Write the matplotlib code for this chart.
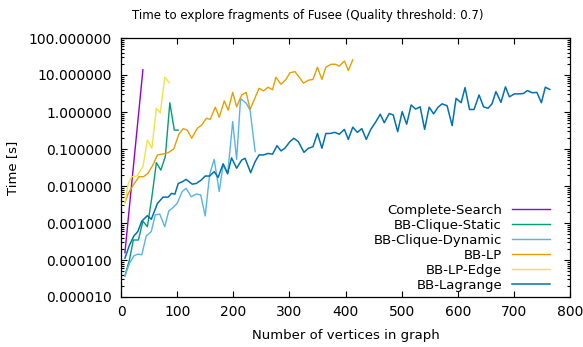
import matplotlib
matplotlib.use("Agg")
import matplotlib.pyplot as plt
from matplotlib.ticker import LogLocator, FormatStrFormatter, NullFormatter, MultipleLocator

# Vertex counts and exploration times (seconds) per algorithm
cs_x = [7, 15, 23, 31, 39]
cs_t = [1.58e-4, 2.75e-3, 4.68e-2, 0.79, 13.8]

static_x = [7, 15, 22, 31, 39, 47, 55, 63, 71, 79, 87, 95, 102]
static_t = [3.72e-5, 1.0e-4, 3.47e-4, 3.47e-4, 1.12e-3, 7.94e-4, 5.01e-3,
            4.27e-2, 2.69e-2, 6.31e-2, 1.78, 0.324, 0.324]

dynamic_x = [7, 15, 23, 30, 37, 45, 54, 61, 69, 78, 85, 93, 100, 109, 116,
             125, 134, 142, 150, 158, 166, 175, 182, 190, 199, 206, 213, 223,
             230, 239]
dynamic_t = [3.72e-5, 8.13e-5, 1.29e-4, 1.45e-4, 1.38e-4, 4.47e-4, 5.89e-4,
             1.66e-3, 1.74e-3, 7.94e-4, 2.09e-3, 2.63e-3, 3.39e-3, 7.08e-3,
             8.71e-3, 5.13e-3, 6.03e-3, 5.75e-3, 1.55e-3, 2.09e-2, 5.25e-2,
             7.08e-3, 3.72e-2, 2.09e-2, 0.55, 5.25e-2, 2.29, 1.74, 1.12, 0.0851]

lp_x = [7, 13, 22, 32, 40, 48, 57, 65, 73, 84, 94, 103, 111, 118, 126, 136,
        144, 152, 159, 168, 175, 184, 191, 199, 206, 215, 223, 230, 237, 246,
        254, 262, 270, 276, 285, 294, 301, 310, 318, 325, 334, 342, 350, 358,
        365, 374, 382, 389, 398, 405, 413]
lp_t = [3.55e-3, 6.31e-3, 1.07e-2, 1.78e-2, 1.78e-2, 2.19e-2, 3.72e-2,
        6.92e-2, 7.24e-2, 7.94e-2, 0.1, 0.251, 0.355, 0.324, 0.195, 0.363,
        0.447, 0.676, 0.631, 1.35, 0.724, 2.0, 1.12, 3.39, 1.38, 2.88, 3.39,
        1.17, 2.09, 4.37, 3.72, 4.68, 3.98, 8.71, 5.62, 7.59, 11.5, 12.3,
        8.51, 6.03, 7.24, 7.59, 16.2, 7.59, 16.2, 19.5, 19.5, 17.4, 24.0,
        13.2, 25.7]

lpedge_x = [7, 13, 19, 28, 39, 47, 55, 63, 70, 78, 86]
lpedge_t = [3.55e-3, 1.17e-2, 1.78e-2, 1.86e-2, 3.31e-2, 0.174, 0.105, 1.26,
            0.955, 8.71, 6.17]

lag_x = [7, 15, 23, 30, 37, 47, 54, 65, 75, 84, 90, 96, 102, 110, 116, 127,
         134, 143, 150, 158, 166, 173, 182, 190, 197, 206, 215, 221, 231, 239,
         246, 254, 262, 270, 278, 285, 292, 301, 308, 316, 326, 334, 342, 350,
         358, 365, 373, 381, 389, 398, 405, 413, 421, 429, 437, 445, 453, 462,
         469, 478, 485, 493, 501, 509, 517, 525, 533, 541, 549, 557, 565, 572,
         581, 590, 597, 606, 613, 621, 629, 638, 646, 654, 661, 668, 677, 685,
         692, 701, 709, 717, 724, 733, 741, 749, 756, 764]
lag_t = [1.12e-4, 2.51e-4, 4.47e-4, 5.89e-4, 1.12e-3, 1.58e-3, 1.26e-3,
         3.39e-3, 5.01e-3, 5.0e-3, 6.31e-3, 6.03e-3, 1.17e-2, 1.32e-2,
         1.51e-2, 1.12e-2, 1.17e-2, 1.45e-2, 1.86e-2, 1.86e-2, 2.45e-2,
         1.70e-2, 3.98e-2, 2.19e-2, 5.75e-2, 3.02e-2, 5.01e-2, 5.62e-2,
         2.29e-2, 4.57e-2, 6.92e-2, 6.92e-2, 7.59e-2, 7.24e-2, 0.123, 0.0891,
         0.105, 0.158, 0.195, 0.158, 0.0813, 0.105, 0.115, 0.263, 0.105,
         0.263, 0.263, 0.282, 0.251, 0.339, 0.182, 0.389, 0.282, 0.355, 0.182,
         0.339, 0.513, 0.871, 0.513, 0.912, 0.832, 0.295, 1.02, 0.468, 1.55,
         1.20, 1.38, 0.339, 1.35, 0.891, 1.35, 1.66, 1.48, 0.427, 2.34, 1.78,
         4.57, 1.17, 1.17, 2.88, 1.38, 1.26, 1.66, 3.55, 1.82, 4.79, 2.57,
         3.09, 3.09, 3.16, 3.80, 3.31, 3.39, 1.78, 4.68, 4.07]

series = [
    ("Complete-Search", cs_x, cs_t, "#9400D3", 1.0),
    ("BB-Clique-Static", static_x, static_t, "#009E73", 1.0),
    ("BB-Clique-Dynamic", dynamic_x, dynamic_t, "#56B4E9", 1.0),
    ("BB-LP", lp_x, lp_t, "#E69F00", 1.0),
    ("BB-LP-Edge", lpedge_x, lpedge_t, "#F0E442", 1.0),
    ("BB-Lagrange", lag_x, lag_t, "#0072B2", 1.1),
]

FS = 9.5
TICK_FS = 10
plt.rcParams["font.family"] = ["DejaVu Sans"]

W, H = 583, 347
fig = plt.figure(figsize=(W / 100, H / 100), dpi=100)
ax = fig.add_axes([121 / W, 1 - 297 / H, 449 / W, 259 / H])

for name, xs, ts, color, lw in series:
    ax.plot(xs, ts, color=color, lw=lw, label=name)

ax.set_yscale("log")
ax.set_xlim(0, 800)
ax.set_ylim(1e-5, 1e2)
ax.xaxis.set_major_locator(MultipleLocator(100))
ax.yaxis.set_major_locator(LogLocator(base=10, numticks=20))
ax.yaxis.set_minor_locator(LogLocator(base=10, subs=range(2, 10), numticks=20))
ax.yaxis.set_major_formatter(FormatStrFormatter("%f"))
ax.yaxis.set_minor_formatter(NullFormatter())

ax.tick_params(which="both", direction="in", top=True, right=True,
               labelsize=TICK_FS, color="black", width=0.8)
ax.tick_params(which="major", length=4.3)
ax.tick_params(axis="y", which="major", pad=6.5)
ax.tick_params(axis="x", which="major", pad=6)
ax.tick_params(which="minor", length=2.4)
for sp in ax.spines.values():
    sp.set_linewidth(0.9)

fig.text(308 / W, 1 - 15 / H,
         "Time to explore fragments of Fusee (Quality threshold: 0.7)",
         fontsize=8.5, ha="center", va="center")
ax.set_xlabel("Number of vertices in graph", fontsize=FS, labelpad=7)
ax.set_ylabel("Time [s]", fontsize=FS, labelpad=7)

ax.legend(loc="lower right", bbox_to_anchor=(0.956, 0.02), frameon=False,
          markerfirst=False, fontsize=FS, handlelength=2.9, handletextpad=0.75,
          labelspacing=0.15, borderpad=0, borderaxespad=0)

fig.savefig("out.png", dpi=100)
